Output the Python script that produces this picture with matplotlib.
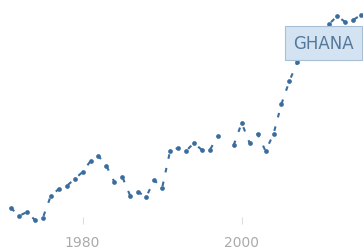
import numpy as np
import matplotlib.pyplot as plt

# ==========================================
# DATA
# ==========================================
years = list(range(1971, 2016))
values = [1.6, 0.8, 1.2, 0.4, 0.6, 2.8, 3.5, 3.8, 4.5, 5.2,
          6.3, 6.8, 5.8, 4.2, 4.7, 2.8, 3.2, 2.7, 4.4, 3.6,
          7.3, 7.6, 7.3, 8.1, 7.4, 7.4, 8.8, np.nan, 7.9, 10.1,
          8.1, 9.0, 7.3, 9.0, 12.0, 14.3, 16.2, 17.5, 18.7, 19.5,
          20.0, 20.8, 20.2, 20.4, 20.9]
tick_years = [1980, 2000]
label = 'GHANA'

LINE_COLOR = '#3a6d9e'

# ==========================================
# FIGURE
# ==========================================
fig = plt.figure(figsize=(3.63, 2.51), dpi=100)
ax = fig.add_axes([0, 26 / 251, 1, 225 / 251])

ax.plot(years, values, color=LINE_COLOR, linewidth=1.5,
        linestyle=(0, (2.2, 4.5)), dash_capstyle='butt',
        marker='o', markersize=3.4, markeredgewidth=0, clip_on=False)

ax.text(2010.3, 18.1, label, ha='center', va='center', fontsize=12,
        color='#55799c',
        bbox=dict(boxstyle='square,pad=0.5', facecolor='#d3e3f2',
                  edgecolor='#a6bfd6', linewidth=0.8), zorder=5)

ax.set_xlim(1969.62, 2015.25)
ax.set_ylim(0, 22.5)
ax.set_xticks(tick_years)
ax.set_xticklabels([str(y) for y in tick_years])
ax.set_yticks([])
for s in ax.spines.values():
    s.set_visible(False)
ax.tick_params(axis='x', direction='in', length=5, width=0.8, color='#dddddd',
               labelcolor='#aaaaaa', labelsize=10, pad=8)

fig.savefig('out.png', dpi=100)
